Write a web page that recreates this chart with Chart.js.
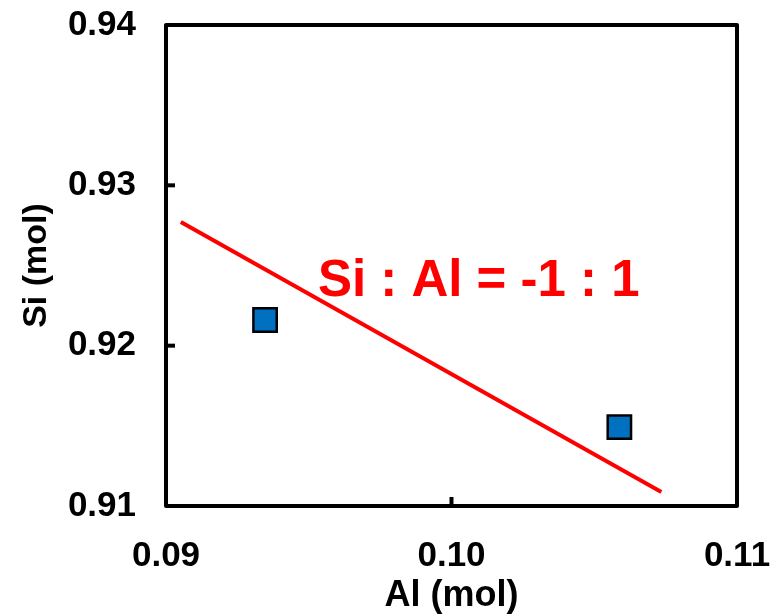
<!DOCTYPE html>
<html>
<head>
<meta charset="utf-8">
<title>Si vs Al</title>
<script src="https://cdn.jsdelivr.net/npm/chart.js@4/dist/chart.umd.min.js"></script>
<style>
  html, body { margin: 0; padding: 0; background: #fff; }
  #wrap { width: 776px; height: 616px; }
</style>
</head>
<body>
<div id="wrap"><canvas id="chart" width="776" height="616"></canvas></div>
<script>
  // measured samples (mol)
  const alValues = [0.09347, 0.10588];
  const siValues = [0.9216, 0.91492];

  // reference line Si : Al = -1 : 1
  const lineAl = [0.09052, 0.10735];
  const lineSi = [0.92771, 0.91088];

  const xTicks = [0.09, 0.10, 0.11];
  const yTicks = [0.91, 0.92, 0.93, 0.94];

  const noteText = "Si : Al = -1 : 1";
  const noteAl = 0.09532;
  const noteSi = 0.92397;

  const FONT = "Arial, 'Liberation Sans', sans-serif";

  // frame round the plot area + short ticks pointing inwards
  const framePlugin = {
    id: "frame",
    afterDraw(chart) {
      const { ctx, chartArea: a, scales } = chart;
      ctx.save();
      ctx.strokeStyle = "#000";
      ctx.lineWidth = 4;
      ctx.lineJoin = "round";
      ctx.lineCap = "round";
      ctx.strokeRect(a.left, a.top, a.right - a.left, a.bottom - a.top);
      ctx.lineCap = "butt";
      const tick = 9;
      xTicks.slice(1, -1).forEach((v) => {
        const x = scales.x.getPixelForValue(v);
        ctx.beginPath();
        ctx.moveTo(x, a.bottom);
        ctx.lineTo(x, a.bottom - tick);
        ctx.stroke();
      });
      yTicks.slice(1, -1).forEach((v) => {
        const y = scales.y.getPixelForValue(v);
        ctx.beginPath();
        ctx.moveTo(a.left, y);
        ctx.lineTo(a.left + tick, y);
        ctx.stroke();
      });
      ctx.restore();
    },
  };

  const notePlugin = {
    id: "note",
    afterDatasetsDraw(chart) {
      const { ctx, scales } = chart;
      ctx.save();
      ctx.fillStyle = "#FF0000";
      ctx.font = "bold 51px " + FONT;
      ctx.textAlign = "left";
      ctx.textBaseline = "middle";
      ctx.fillText(noteText, scales.x.getPixelForValue(noteAl), scales.y.getPixelForValue(noteSi));
      ctx.restore();
    },
  };

  const tickFont = { family: FONT, size: 35, weight: "bold" };

  new Chart(document.getElementById("chart"), {
    type: "scatter",
    data: {
      datasets: [
        {
          label: "Si : Al",
          data: lineAl.map((x, i) => ({ x, y: lineSi[i] })),
          showLine: true,
          borderColor: "#FF0000",
          borderWidth: 4,
          pointRadius: 0,
          order: 2,
        },
        {
          label: "samples",
          data: alValues.map((x, i) => ({ x, y: siValues[i] })),
          pointStyle: "rect",
          pointRadius: 16.5,
          backgroundColor: "#0070C0",
          borderColor: "#000",
          borderWidth: 2.5,
          order: 1,
        },
      ],
    },
    options: {
      responsive: false,
      animation: false,
      layout: { padding: 0 },
      plugins: {
        legend: { display: false },
        tooltip: { enabled: false },
      },
      scales: {
        x: {
          type: "linear",
          min: 0.09,
          max: 0.11,
          afterBuildTicks: (s) => { s.ticks = xTicks.map((v) => ({ value: v })); },
          afterFit: (s) => {
            s.height = 110;
            s.paddingLeft = 0;
            s.paddingRight = 39;
          },
          grid: { display: false, drawTicks: false },
          border: { display: false },
          ticks: {
            color: "#000",
            font: tickFont,
            padding: 29,
            maxRotation: 0,
            callback: (v) => v.toFixed(2),
          },
          title: {
            display: true,
            text: "Al (mol)",
            color: "#000",
            font: { family: FONT, size: 36, weight: "bold" },
            padding: { top: 0, bottom: -2 },
          },
        },
        y: {
          min: 0.91,
          max: 0.94,
          afterBuildTicks: (s) => { s.ticks = yTicks.map((v) => ({ value: v })); },
          afterFit: (s) => {
            s.width = 166;
            s.paddingTop = 25;
            s.paddingBottom = 0;
          },
          grid: { display: false, drawTicks: false },
          border: { display: false },
          ticks: {
            color: "#000",
            font: tickFont,
            padding: 30,
            callback: (v) => v.toFixed(2),
          },
          title: {
            display: true,
            text: "Si (mol)",
            color: "#000",
            font: { family: FONT, size: 34, weight: "bold" },
            padding: { top: 16, bottom: 0 },
          },
        },
      },
    },
    plugins: [framePlugin, notePlugin],
  });
</script>
</body>
</html>
